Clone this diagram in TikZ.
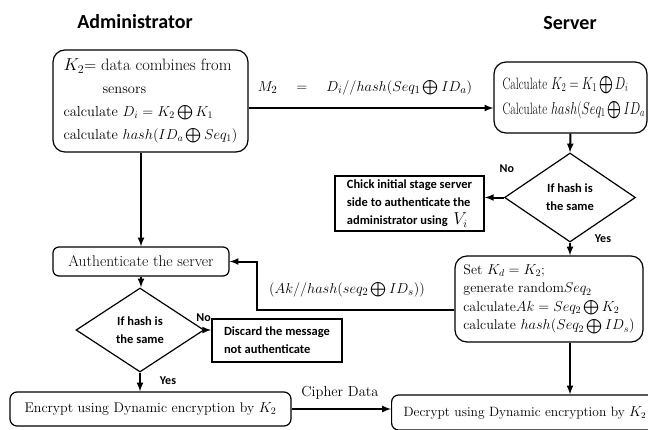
\documentclass[tikz,border=0pt]{standalone}
\usepackage{fontspec}
\usepackage{amsmath}
\usetikzlibrary{positioning}
\usetikzlibrary{calc}
\usetikzlibrary{shapes}
\newfontfamily\calib{Carlito}

\begin{document}
\begin{tikzpicture}[x=1pt,y=-1pt]
\tikzstyle{rbox} =[rectangle,rounded corners=12pt,draw=black,line width=1.2pt,align=left,inner sep=0pt]
\tikzstyle{sbox} =[rectangle,draw=black,line width=1.8pt,align=left,inner sep=0pt,font=\calib\bfseries\fontsize{12.5}{18}\selectfont]
\tikzstyle{test} =[diamond,draw=black,line width=1.2pt,align=center,inner sep=0pt,font=\calib\bfseries\fontsize{12.5}{18}\selectfont]
\tikzstyle{tag} =[font=\calib\bfseries\fontsize{12}{14}\selectfont]
\tikzstyle{head} =[font=\calib\bfseries\fontsize{20}{22}\selectfont]
\tikzstyle{arr} =[draw,line width=2pt,-latex]
\useasboundingbox (0,0) rectangle (648,429);

\node[head](admhead) at (135,22){Administrator};
\node[head](srvhead) at (570,23){Server};

\node[rbox,minimum width=195pt,minimum height=102pt,font=\fontsize{14.5}{23}\selectfont](admin) at (150.5,101){{\fontsize{16.5}{23}\selectfont$K_2$= data combines from}\\\hspace*{39pt}sensors\\calculate $D_i = K_2\bigoplus K_1$\\calculate $hash(ID_a\bigoplus Seq_1)$};
\node[rbox,minimum width=153pt,minimum height=71pt,text width=136pt,font=\fontsize{16.5}{25}\selectfont](srv) at (570.5,97.5){\scalebox{0.72}[1]{Calculate $K_2 = K_1\bigoplus D_i$}\\\scalebox{0.72}[1]{Calculate $hash(Seq_1\bigoplus ID_a$}};
\node[font=\fontsize{15}{17}\selectfont](m2) at (365,88){$M_2\quad=\quad D_i//hash(Seq_1\bigoplus ID_a)$};
\coordinate (m2start) at ($(admin.east)+(0,7)$);
\draw[arr] (m2start) -- (m2start -| srv.west);

\node[test,minimum width=131pt,minimum height=89pt](chk1) at (570,197.5){If hash is\\the same};
\draw[arr] (srv.south) -- (chk1.north);
\node[sbox,minimum width=149pt,minimum height=55pt](chick) at (409.5,203.5){Chick initial stage server\\side to authenticate the\\administrator using\ \ {\fontsize{16}{17}\selectfont$V_i$}};
\draw[arr] (chk1.west) -- (chick.east |- chk1.west);
\node[tag](no1) at ($(chk1.west)+(3,-29)$){No};
\node[tag](yes1) at ($(chk1.south)+(33,-4)$){Yes};

\node[rbox,minimum width=188pt,minimum height=86pt,font=\fontsize{14}{18.5}\selectfont](setk) at (549,299){Set $K_d = K_2$;\\generate random$Seq_2$\\calculate$Ak = Seq_2\bigoplus K_2$\\calculate $hash(Seq_2\bigoplus ID_s)$};
\draw[arr] (chk1.south) -- (chk1.south |- setk.north);

\node[rbox,rounded corners=6pt,minimum width=176pt,minimum height=29pt,font=\fontsize{15.5}{17}\selectfont](auth) at (141,261.5){Authenticate the server};
\draw[arr] (admin.south -| auth.north) -- (auth.north);
\coordinate (akstart) at ($(setk.west)+(0,11)$);
\coordinate (akbend) at ($(auth.east)+(27,0)$);
\draw[arr] (akstart) -| (akbend) -- (auth.east);
\node[font=\fontsize{15}{17}\selectfont](aklabel) at (347,290){$(Ak//hash(seq_2\bigoplus ID_s))$};

\node[test,minimum width=128pt,minimum height=84pt](chk2) at (140,330){If hash is\\the same};
\draw[arr] (auth.south) -- (auth.south |- chk2.north);
\node[sbox,minimum width=130pt,minimum height=43pt](discard) at (277,340.5){Discard the message\\not authenticate};
\draw[arr] (chk2.east) -- (discard.west |- chk2.east);
\node[tag](no2) at ($(chk2.east)+(-1,-12)$){No};
\node[tag](yes2) at ($(chk2.south)+(28,8)$){Yes};

\node[rbox,rounded corners=7pt,minimum width=281pt,minimum height=34pt,font=\fontsize{14}{17}\selectfont](enc) at (150.5,409){Encrypt using Dynamic encryption by $K_2$};
\draw[arr] (chk2.south) -- (chk2.south |- enc.north);
\node[rbox,rounded corners=7pt,anchor=west,minimum height=35pt,inner xsep=12pt,font=\fontsize{13.5}{17}\selectfont](dec) at (391,412.5){Decrypt using Dynamic encryption by $K_2$};
\draw[arr] (enc.east) -- (enc.east -| dec.west);
\node[font=\fontsize{14.5}{17}\selectfont](cipher) at (340,393){Cipher Data};
\draw[arr] (setk.south -| chk1.south) -- (dec.north -| chk1.south);
\end{tikzpicture}
\end{document}
